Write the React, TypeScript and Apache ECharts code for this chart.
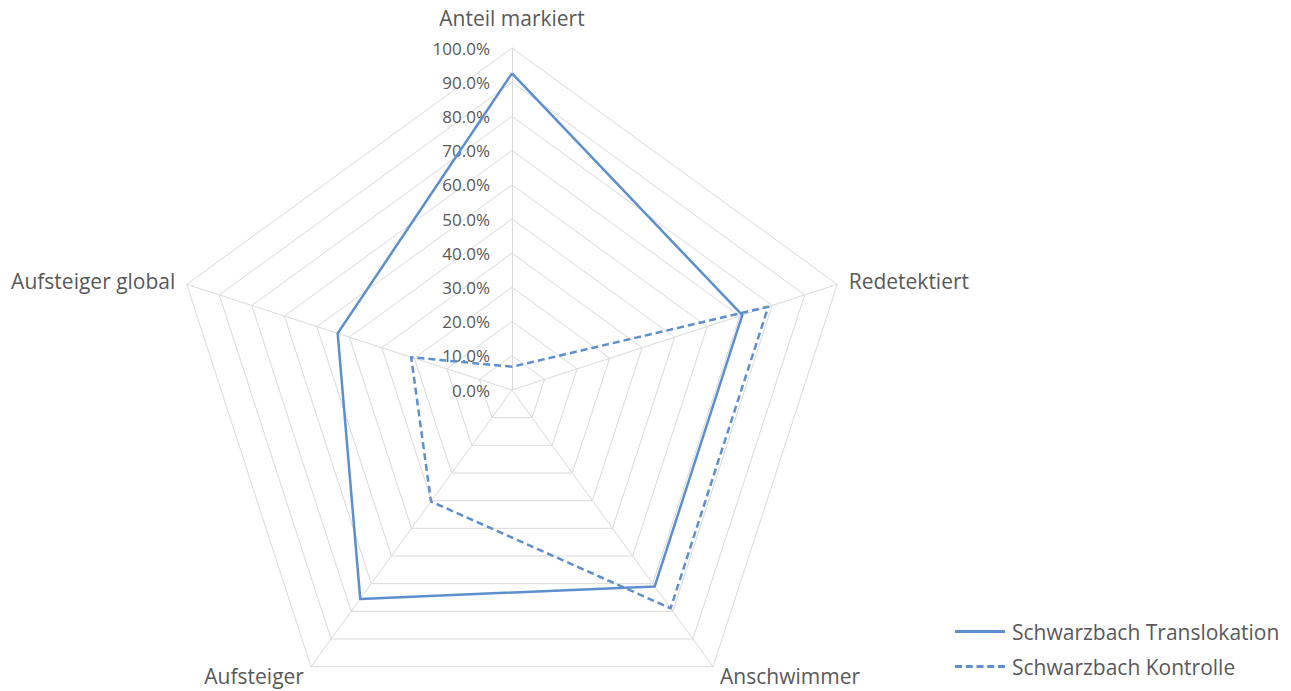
import React, { useEffect, useRef } from "react";
import * as echarts from "echarts";

const categories = ["Anteil markiert", "Redetektiert", "Anschwimmer", "Aufsteiger", "Aufsteiger global"];
const translokation = [92.6, 70.8, 71.0, 75.5, 53.6];
const kontrolle = [6.8, 78.8, 78.9, 40.3, 31.0];
const seriesNames = ["Schwarzbach Translokation", "Schwarzbach Kontrolle"];
const axisMax = 100;
const tickStep = 10;

const FONT = "'Open Sans', sans-serif";
const BLUE = "#5d8fcf";
const GRID = "#d9d9d9";
const TEXT = "#595959";

// ECharts radar runs counter-clockwise; reorder so categories run clockwise
const order = [0, 4, 3, 2, 1];
const reorder = <T,>(arr: T[]) => order.map((i) => arr[i]);

export default function App() {
  const ref = useRef<HTMLDivElement>(null);
  useEffect(() => {
    if (!ref.current) return;
    const chart = echarts.init(ref.current, null, { renderer: "svg" });
    const center = [512, 390];
    const radius = 342;
    chart.setOption({
      animation: false,
      backgroundColor: "#ffffff",
      textStyle: { fontFamily: FONT },
      legend: {
        orient: "vertical",
        left: 955,
        top: 621,
        padding: 0,
        itemWidth: 50,
        itemHeight: 3,
        itemGap: 14,
        textStyle: { fontSize: 21, color: TEXT, fontFamily: FONT, padding: [0, 0, 0, 2] },
        data: [
          { name: seriesNames[0], icon: "rect" },
          {
            name: seriesNames[1],
            icon: "path://M0,0h7v3H0z M10.75,0h7v3h-7z M21.5,0h7v3h-7z M32.25,0h7v3h-7z M43,0h7v3h-7z",
          },
        ],
      },
      radar: {
        center,
        radius,
        startAngle: 90,
        shape: "polygon",
        splitNumber: axisMax / tickStep,
        indicator: reorder(categories).map((name) => ({ name, min: 0, max: axisMax })),
        axisName: {
          color: TEXT,
          fontSize: 21,
          fontFamily: FONT,
          formatter: (name: string) => (name === categories[0] ? `{top|${name}}` : name),
          rich: {
            top: { color: TEXT, fontSize: 21, fontFamily: FONT, padding: [0, 0, 8, 0] },
          },
        },
        nameGap: 12,
        axisLine: { lineStyle: { color: GRID, width: 1 } },
        splitLine: { lineStyle: { color: GRID, width: 1 } },
        splitArea: { show: false },
        axisLabel: { show: false },
        axisTick: { show: false },
      },
      polar: { center, radius },
      angleAxis: {
        startAngle: 90,
        show: false,
        min: 0,
        max: 360,
      },
      radiusAxis: {
        min: 0,
        max: axisMax,
        interval: tickStep,
        axisLine: { show: false },
        axisTick: { show: false },
        splitLine: { show: false },
        axisLabel: {
          show: true,
          color: TEXT,
          fontSize: 17,
          fontFamily: FONT,
          margin: 22,
          formatter: (v: number) => v.toFixed(1) + "%",
        },
      },
      series: [
        {
          type: "radar",
          name: seriesNames[0],
          symbol: "none",
          lineStyle: { color: BLUE, width: 2.5, type: "solid" },
          itemStyle: { color: BLUE },
          data: [{ value: reorder(translokation), name: seriesNames[0] }],
        },
        {
          type: "radar",
          name: seriesNames[1],
          symbol: "none",
          lineStyle: { color: BLUE, width: 2.5, type: [7, 4] },
          itemStyle: { color: BLUE },
          data: [{ value: reorder(kontrolle), name: seriesNames[1] }],
        },
      ],
    });
    return () => chart.dispose();
  }, []);
  return (
    <div
      ref={ref}
      style={{ position: "absolute", left: 0, top: 0, width: 1291, height: 691 }}
    />
  );
}
